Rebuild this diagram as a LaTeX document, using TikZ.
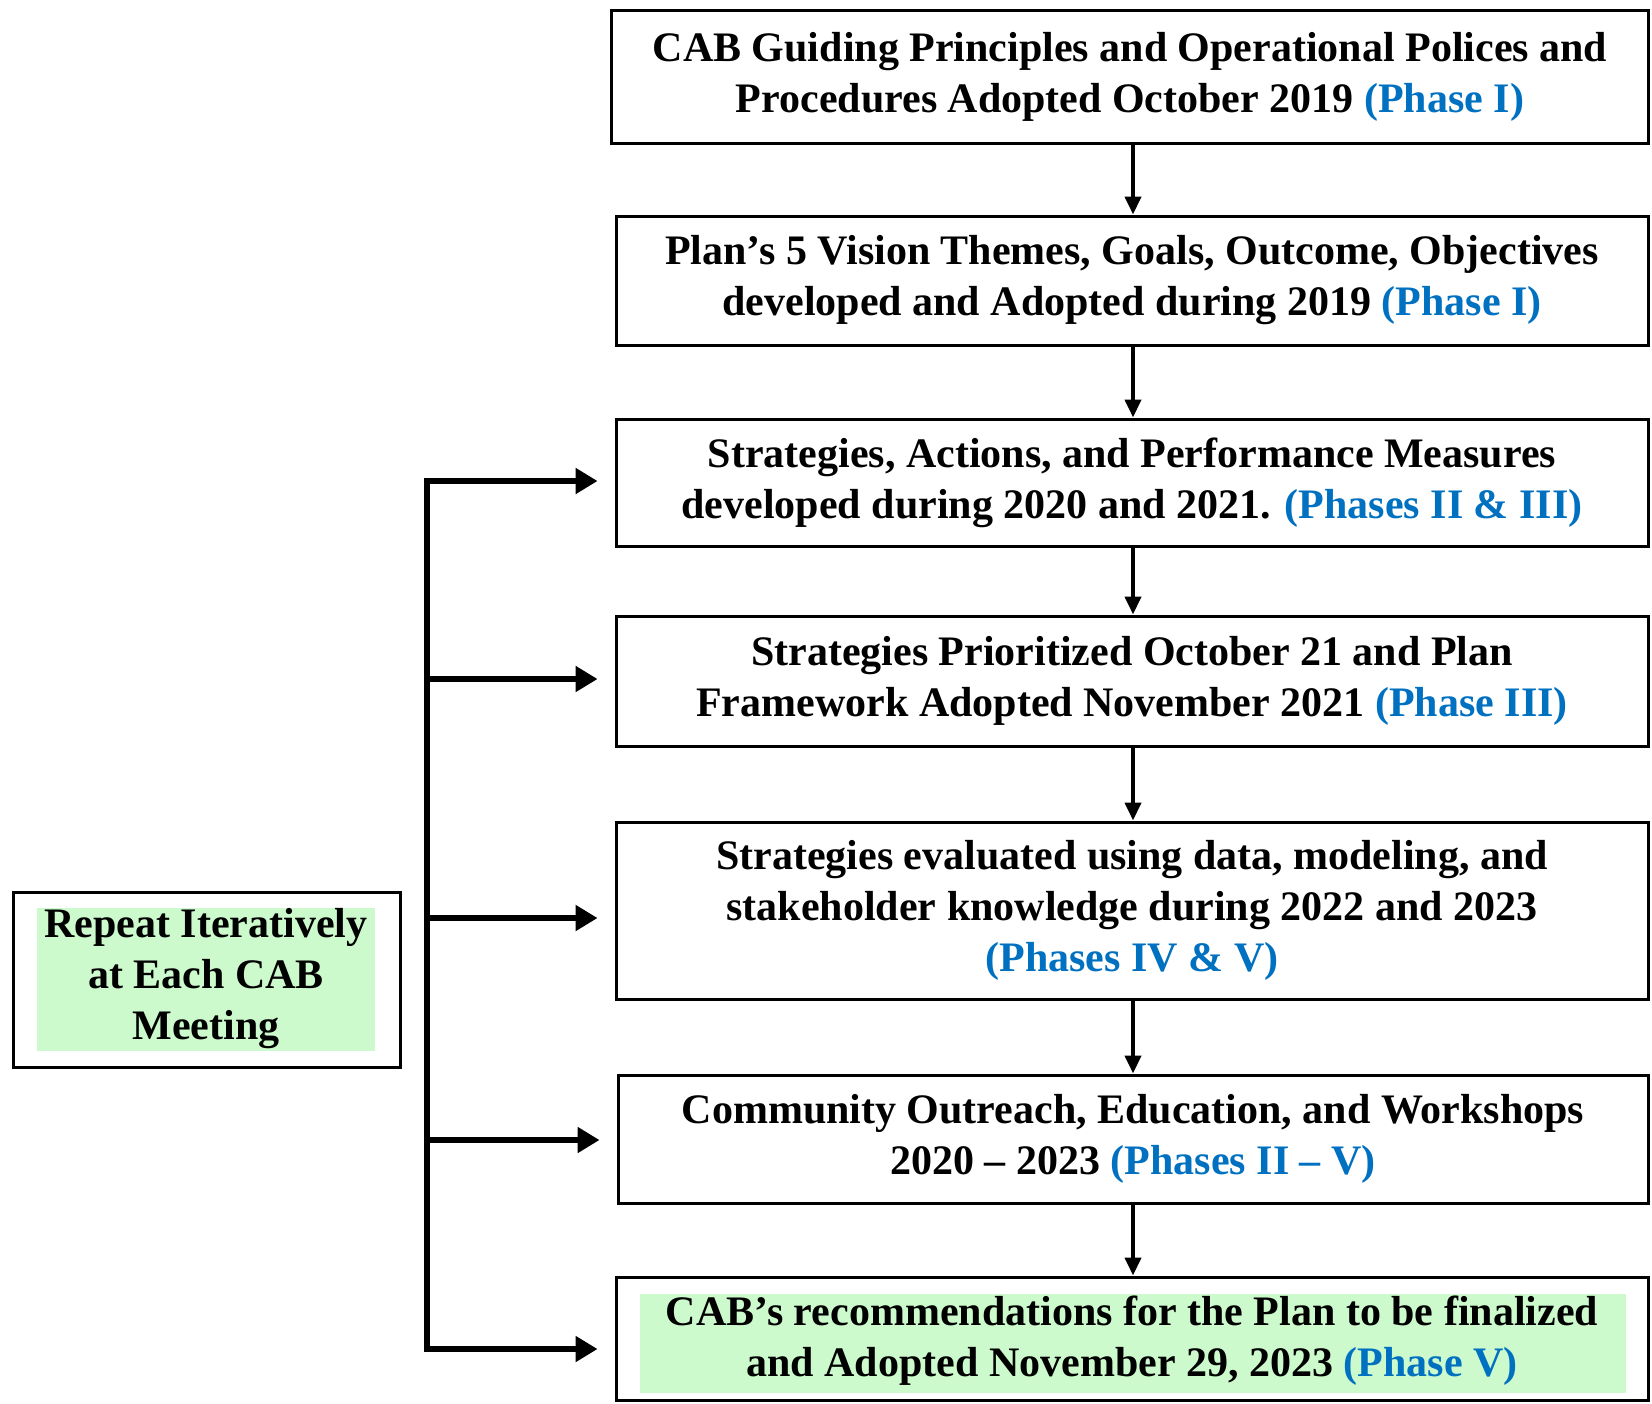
\documentclass[tikz,border=0pt]{standalone}
\usepackage{fontspec}
\setmainfont{Liberation Serif}
\usetikzlibrary{arrows.meta}
\definecolor{phaseblue}{RGB}{0,112,192}
\definecolor{mintgreen}{RGB}{204,250,204}
\newcommand{\phs}[1]{{\color{phaseblue}#1}}
\begin{document}
\begin{tikzpicture}[x=0.5pt,y=-0.5pt,
  boxtext/.style={font=\bfseries\fontsize{21}{25.5}\selectfont, align=center},
  stagebox/.style={draw=black, line width=1.5pt, rectangle, inner sep=0pt, boxtext},
  greenbg/.style={fill=mintgreen, draw=none, rectangle, inner sep=0pt},
  downarrow/.style={line width=2pt, -{Triangle[length=9pt,width=8pt]}},
  feed/.style={line width=2.6pt, -{Triangle[length=11pt,width=12.5pt]}, shorten >=8.5pt},
  busline/.style={line width=2.6pt, line join=miter, {Triangle[length=11pt,width=12.5pt]}-{Triangle[length=11pt,width=12.5pt]}, shorten >=8.5pt, shorten <=8.5pt}
]
\useasboundingbox (0,0) rectangle (1652,1403);

% stage boxes
\node[stagebox, minimum width=518.5pt, minimum height=66.75pt] (b1) at (1130,77)
  {CAB Guiding Principles and Operational Polices and\\Procedures Adopted October 2019 \phs{(Phase I)}};
\node[stagebox, minimum width=516pt, minimum height=64.5pt] (b2) at (1132,280.5)
  {Plan’s 5 Vision Themes, Goals, Outcome, Objectives\\developed and Adopted during 2019 \phs{(Phase I)}};
\node[stagebox, minimum width=516pt, minimum height=63.5pt] (b3) at (1132,482.5)
  {Strategies, Actions, and Performance Measures\\developed during 2020 and 2021. \phs{(Phases II \& III)}};
\node[stagebox, minimum width=516pt, minimum height=65pt] (b4) at (1132,681)
  {Strategies Prioritized October 21 and Plan\\Framework Adopted November 2021 \phs{(Phase III)}};
\node[stagebox, minimum width=516pt, minimum height=88.5pt] (b5) at (1132,910.5)
  {Strategies evaluated using data, modeling, and\\stakeholder knowledge during 2022 and 2023\\\phs{(Phases IV \& V)}};
\node[stagebox, minimum width=515pt, minimum height=64pt] (b6) at (1133,1139)
  {Community Outreach, Education, and Workshops\\2020 – 2023 \phs{(Phases II – V)}};

% final box with green band
\node[stagebox, minimum width=516pt, minimum height=61.5pt] (b7) at (1132,1338.5) {};
\node[greenbg, minimum width=493pt, minimum height=49.5pt] (g7) at (1133,1343.5) {};
\node[boxtext] (t7) at (1132,1341)
  {CAB’s recommendations for the Plan to be finalized\\and Adopted November 29, 2023 \phs{(Phase V)}};

% repeat box
\node[stagebox, minimum width=193.5pt, minimum height=87.5pt] (rep) at (206.5,979.5) {};
\node[greenbg, minimum width=169pt, minimum height=71.5pt] (repg) at (206,979.5) {};
\node[boxtext] (rept) at (206,979) {Repeat Iteratively\\at Each CAB\\Meeting};

% downward arrows
\coordinate (ax) at (1133,0);
\draw[downarrow] (b1.south -| ax) -- (b2.north -| ax);
\draw[downarrow] (b2.south -| ax) -- (b3.north -| ax);
\draw[downarrow] (b3.south -| ax) -- (b4.north -| ax);
\draw[downarrow] (b4.south -| ax) -- (b5.north -| ax);
\draw[downarrow] (b5.south -| ax) -- (b6.north -| ax);
\draw[downarrow] (b6.south -| ax) -- (b7.north -| ax);

% iteration bus
\coordinate (h3) at (427,481);
\coordinate (h4) at (427,679);
\coordinate (h5) at (427,918);
\coordinate (h6) at (427,1140);
\coordinate (h7) at (427,1349);
\draw[busline] (h3 -| b3.west) -- (h3) -- (h7) -- (h7 -| b7.west);
\draw[feed] (h4) -- (h4 -| b4.west);
\draw[feed] (h5) -- (h5 -| b5.west);
\draw[feed] (h6) -- (h6 -| b6.west);
\end{tikzpicture}
\end{document}
